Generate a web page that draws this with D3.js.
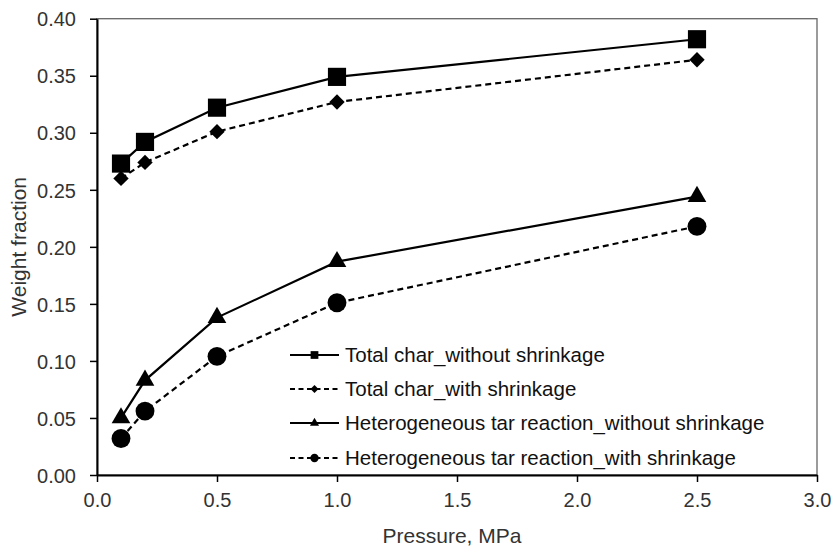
<!DOCTYPE html>
<html><head><meta charset="utf-8">
<script src="https://cdn.jsdelivr.net/npm/d3@7"></script>
<style>body{margin:0;background:#fff}svg{display:block}text{font-family:"Liberation Sans",Arial,sans-serif;fill:#333}</style>
</head><body><svg id="c" width="835" height="551"></svg>
<script>
const pressure = [0.1, 0.2, 0.5, 1.0, 2.5];
const charWithout = [0.273, 0.292, 0.322, 0.349, 0.382];
const charWith = [0.260, 0.274, 0.301, 0.327, 0.364];
const tarWithout = [0.050, 0.083, 0.138, 0.187, 0.244];
const tarWith = [0.032, 0.056, 0.104, 0.151, 0.218];
const seriesNames = ["Total char_without shrinkage","Total char_with shrinkage","Heterogeneous tar reaction_without shrinkage","Heterogeneous tar reaction_with shrinkage"];
const xTicks = [0,0.5,1.0,1.5,2.0,2.5,3.0];
const yTicks = [0,0.05,0.10,0.15,0.20,0.25,0.30,0.35,0.40];

const series = [
 {name:seriesNames[0], values:charWithout, dash:null, sym:d3.symbolSquare, size:330, lsize:60},
 {name:seriesNames[1], values:charWith, dash:"6,4", sym:d3.symbolDiamond2, size:150, lsize:40},
 {name:seriesNames[2], values:tarWithout, dash:null, sym:d3.symbolTriangle2, size:250, lsize:60},
 {name:seriesNames[3], values:tarWith, dash:"6,4", sym:d3.symbolCircle, size:280, lsize:55}
];

const svg = d3.select("#c");
const L=97,R=817,T=18.7,B=475;
const x = d3.scaleLinear().domain([0,3]).range([L,R]);
const y = d3.scaleLinear().domain([0,0.4]).range([B,T]);

svg.append("rect").attr("x",L).attr("y",T).attr("width",R-L).attr("height",B-T).attr("fill","none").attr("stroke","#666").attr("stroke-width",1.3);

const xa = svg.append("g").attr("transform",`translate(0,${B})`).call(d3.axisBottom(x).tickValues(xTicks).tickFormat(d3.format(".1f")).tickSize(7).tickSizeOuter(0));
const ya = svg.append("g").attr("transform",`translate(${L},0)`).call(d3.axisLeft(y).tickValues(yTicks).tickFormat(d3.format(".2f")).tickSize(7).tickSizeOuter(0));
[xa,ya].forEach(a=>{a.attr("font-size",null).attr("font-family",null);a.select(".domain").attr("stroke","#000").attr("stroke-width",2);a.selectAll(".tick line").attr("stroke","#000").attr("stroke-width",1.5);a.selectAll("text").style("font-size","20px").style("fill","#333");});
xa.selectAll("text").attr("y",32).attr("dy",null);
ya.selectAll("text").attr("x",-21).attr("dy","0.36em");

svg.append("text").attr("x",452).attr("y",543).attr("text-anchor","middle").style("font-size","21px").text("Pressure, MPa");
svg.append("text").attr("transform",`translate(26,${(T+B)/2}) rotate(-90)`).attr("text-anchor","middle").style("font-size","21px").text("Weight fraction");

const line = d3.line().x((d,i)=>x(pressure[i])).y(d=>y(d));
series.forEach(s=>{
  svg.append("path").attr("d",line(s.values)).attr("fill","none").attr("stroke","#000").attr("stroke-width",2.2).attr("stroke-dasharray",s.dash);
  svg.selectAll(null).data(s.values).enter().append("path")
   .attr("d",d3.symbol().type(s.sym).size(s.size)).attr("transform",(d,i)=>`translate(${x(pressure[i])},${y(d)})`).attr("fill","#000");
});

const lg = svg.append("g");
const rowY=[355,389,423,458];
series.forEach((s,i)=>{
  const g=lg.append("g").attr("transform",`translate(0,${rowY[i]})`);
  g.append("line").attr("x1",290).attr("x2",339).attr("y1",0).attr("y2",0).attr("stroke","#000").attr("stroke-width",2).attr("stroke-dasharray",s.dash?"5,3.5":null);
  g.append("path").attr("d",d3.symbol().type(s.sym).size(s.lsize)).attr("transform","translate(314.5,0)").attr("fill","#000");
  g.append("text").attr("x",345).attr("y",0).attr("dy","0.36em").style("font-size","20.5px").style("fill","#111").text(s.name);
});
</script></body></html>
